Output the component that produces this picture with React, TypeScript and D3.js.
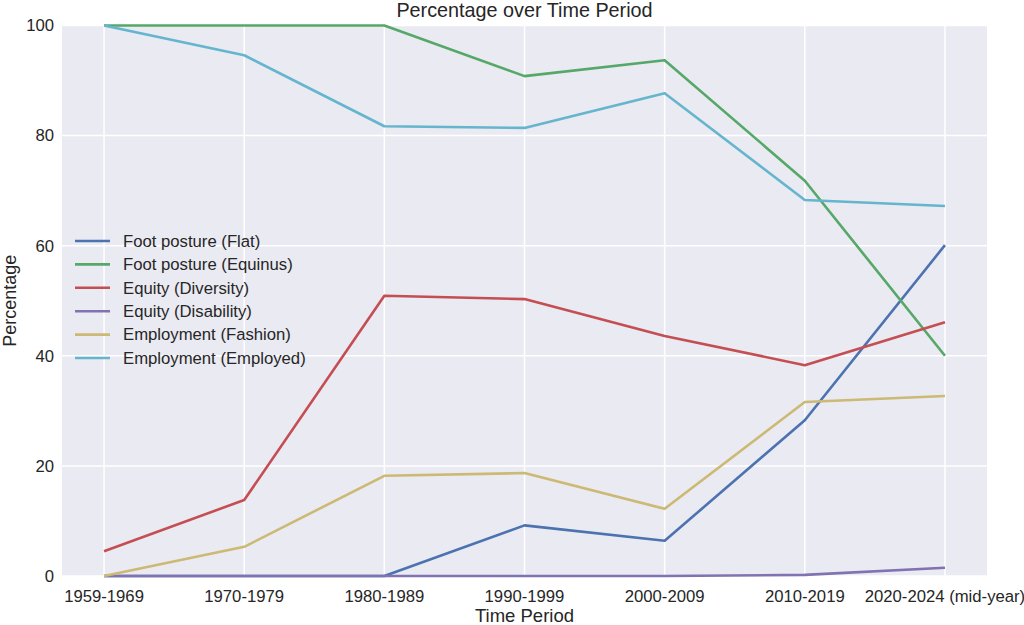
import React, { useEffect, useRef } from 'react';
import * as d3 from 'd3';

const periods = ['1959-1969', '1970-1979', '1980-1989', '1990-1999', '2000-2009', '2010-2019', '2020-2024 (mid-year)'];

const seriesNames = [
    'Foot posture (Flat)',
    'Foot posture (Equinus)',
    'Equity (Diversity)',
    'Equity (Disability)',
    'Employment (Fashion)',
    'Employment (Employed)',
];

const flat = [0, 0, 0, 9.2, 6.4, 28.3, 60.1];
const equinus = [100, 100, 100, 90.8, 93.7, 71.8, 40.0];
const diversity = [4.5, 13.8, 50.9, 50.3, 43.6, 38.3, 46.1];
const disability = [0, 0, 0, 0, 0, 0.2, 1.5];
const fashion = [0, 5.3, 18.2, 18.7, 12.2, 31.6, 32.7];
const employed = [100, 94.6, 81.7, 81.4, 87.7, 68.3, 67.2];

const seriesValues = [flat, equinus, diversity, disability, fashion, employed];
const colors = ['#4C72B0', '#55A868', '#C44E52', '#8172B2', '#CCB974', '#64B5CD'];
const yTicks = [0, 20, 40, 60, 80, 100];

const width = 1024;
const height = 625;
const marginTop = 25.5;
const marginRight = 37;
const marginBottom = 49;
const marginLeft = 62;

const App: React.FC = () => {
    const svgRef = useRef<SVGSVGElement | null>(null);

    useEffect(() => {
        const svg = d3.select(svgRef.current);
        svg.selectAll('*').remove();

        const font = '"Liberation Sans", Arial, sans-serif';
        const tickSize = 16.7;
        const inner = width - marginLeft - marginRight;
        const x = d3.scalePoint<string>()
            .domain(periods)
            .range([marginLeft + inner * 0.05 / 1.1, width - marginRight - inner * 0.05 / 1.1]);
        const y = d3.scaleLinear().domain([0, 100]).range([height - marginBottom, marginTop]);

        svg.append('rect')
            .attr('x', marginLeft)
            .attr('y', marginTop)
            .attr('width', inner)
            .attr('height', height - marginBottom - marginTop)
            .attr('fill', '#EAEAF2');

        // grid
        svg.append('g')
            .selectAll('line')
            .data(yTicks)
            .join('line')
            .attr('x1', marginLeft)
            .attr('x2', width - marginRight)
            .attr('y1', d => y(d))
            .attr('y2', d => y(d))
            .attr('stroke', 'white')
            .attr('stroke-width', 1.5);

        svg.append('g')
            .selectAll('line')
            .data(periods)
            .join('line')
            .attr('x1', d => x(d)!)
            .attr('x2', d => x(d)!)
            .attr('y1', marginTop)
            .attr('y2', height - marginBottom)
            .attr('stroke', 'white')
            .attr('stroke-width', 1.5);

        const line = d3.line<number>()
            .x((_, i) => x(periods[i])!)
            .y(d => y(d));

        seriesValues.forEach((vals, i) => {
            svg.append('path')
                .datum(vals)
                .attr('fill', 'none')
                .attr('stroke', colors[i])
                .attr('stroke-width', 2.6)
                .attr('stroke-linejoin', 'round')
                .attr('d', line);
        });

        // y tick labels
        svg.append('g')
            .selectAll('text')
            .data(yTicks)
            .join('text')
            .attr('x', marginLeft - 8)
            .attr('y', d => y(d))
            .attr('dy', '0.35em')
            .attr('text-anchor', 'end')
            .attr('font-family', font)
            .attr('font-size', tickSize)
            .attr('fill', '#262626')
            .text(d => d);

        // x tick labels
        svg.append('g')
            .selectAll('text')
            .data(periods)
            .join('text')
            .attr('x', d => x(d)!)
            .attr('y', height - marginBottom + 20)
            .attr('dy', '0.35em')
            .attr('text-anchor', 'middle')
            .attr('font-family', font)
            .attr('font-size', tickSize)
            .attr('fill', '#262626')
            .text(d => d);

        svg.append('text')
            .attr('x', marginLeft + inner / 2)
            .attr('y', 616)
            .attr('dy', '0.35em')
            .attr('text-anchor', 'middle')
            .attr('font-family', font)
            .attr('font-size', 18.5)
            .attr('fill', '#262626')
            .text('Time Period');

        svg.append('text')
            .attr('transform', `translate(10, ${(marginTop + height - marginBottom) / 2}) rotate(-90)`)
            .attr('dy', '0.35em')
            .attr('text-anchor', 'middle')
            .attr('font-family', font)
            .attr('font-size', 18)
            .attr('fill', '#262626')
            .text('Percentage');

        svg.append('text')
            .attr('x', marginLeft + inner / 2)
            .attr('y', 10)
            .attr('dy', '0.35em')
            .attr('text-anchor', 'middle')
            .attr('font-family', font)
            .attr('font-size', 19.8)
            .attr('fill', '#262626')
            .text('Percentage over Time Period');

        // legend
        const legend = svg.append('g');
        seriesNames.forEach((name, i) => {
            const ly = 241 + i * 23.4;
            legend.append('line')
                .attr('x1', 75)
                .attr('x2', 110)
                .attr('y1', ly)
                .attr('y2', ly)
                .attr('stroke', colors[i])
                .attr('stroke-width', 2.6);
            legend.append('text')
                .attr('x', 123)
                .attr('y', ly)
                .attr('dy', '0.35em')
                .attr('font-family', font)
                .attr('font-size', tickSize)
                .attr('fill', '#262626')
                .text(name);
        });
    }, []);

    return (
        <svg
            ref={svgRef}
            width={width}
            height={height}
            viewBox={`0 0 ${width} ${height}`}
            style={{ position: 'absolute', left: 0, top: 0, background: 'white' }}
        />
    );
};

export default App;
